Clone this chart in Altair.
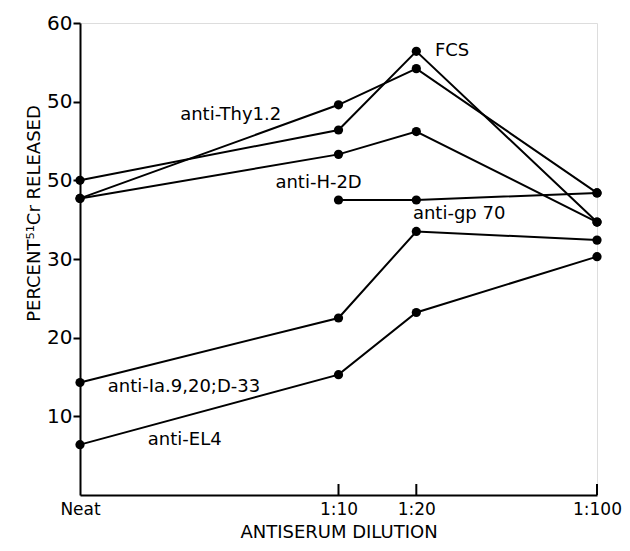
import altair as alt
import pandas as pd

# ---- data ----
dilution_x = [1, 10, 20, 100]                 # Neat, 1:10, 1:20, 1:100 (dilution factor)
dilution_labels = ["Neat", "1:10", "1:20", "1:100"]

series_names = ["FCS", "anti-Thy1.2", "anti-H-2D", "anti-gp 70", "anti-Ia.9,20;D-33", "anti-EL4"]
fcs = [40.0, 46.4, 56.4, 34.7]
thy = [37.7, 49.6, 54.2, 38.4]
h2d = [37.7, 43.3, 46.2, 34.7]
gp70 = [None, 37.5, 37.5, 38.4]
ia = [14.3, 22.5, 33.5, 32.4]
el4 = [6.4, 15.3, 23.2, 30.3]
series_values = [fcs, thy, h2d, gp70, ia, el4]

# label anchors (data units)
label_x = [23.6, 2.44, 5.7, 19.4, 1.28, 1.83]
label_y = [56.4, 48.3, 39.7, 35.7, 13.7, 7.0]

y_ticks = [10, 20, 30, 40, 50, 60]
y_tick_labels = ["10", "20", "30", "50", "50", "60"]

# ---- tables ----
rows = []
for name, vals in zip(series_names, series_values):
    for xv, yv in zip(dilution_x, vals):
        if yv is not None:
            rows.append({"series": name, "dil": xv, "pct": yv})
df = pd.DataFrame(rows)
lab_df = pd.DataFrame({"series": series_names, "lx": label_x, "ly": label_y})
tick_df = pd.DataFrame({"dil": dilution_x[1:]})

x_expr = " : ".join(
    [f"datum.value == {v} ? '{l}'" for v, l in zip(dilution_x, dilution_labels)] + ["''"]
)
y_expr = " : ".join(
    [f"datum.value == {v} ? '{l}'" for v, l in zip(y_ticks, y_tick_labels)] + ["''"]
)

FONT = "DejaVu Sans"

xscale = alt.Scale(type="log", domain=[1, 100], nice=False)
yscale = alt.Scale(domain=[0, 60], nice=False)

x_enc = alt.X(
    "dil:Q",
    scale=xscale,
    axis=alt.Axis(
        values=dilution_x,
        labelExpr=x_expr,
        title="ANTISERUM DILUTION",
        ticks=False,
        grid=False,
        labelFont=FONT,
        labelFontSize=17,
        labelColor="black",
        labelPadding=6,
        labelFlush=False,
        labelOverlap=False,
        titleFont=FONT,
        titleFontSize=18,
        titleFontWeight="normal",
        titleColor="black",
        titlePadding=6,
        domainColor="black",
        domainWidth=2,
    ),
)
y_enc = alt.Y(
    "pct:Q",
    scale=yscale,
    axis=alt.Axis(
        values=y_ticks,
        labelExpr=y_expr,
        title="PERCENT\u2075\u00b9Cr RELEASED",
        grid=False,
        tickSize=7,
        tickWidth=2,
        tickColor="black",
        labelFont=FONT,
        labelFontSize=20,
        labelColor="black",
        labelPadding=1,
        labelFlush=False,
        titleFont=FONT,
        titleFontSize=18,
        titleFontWeight="normal",
        titleColor="black",
        titleAngle=270,
        titleAlign="center",
        titleBaseline="middle",
        titleX=-46,
        titleY=190,
        domainColor="black",
        domainWidth=2,
    ),
)

lines = alt.Chart(df).mark_line(color="black", strokeWidth=2).encode(
    x=x_enc, y=y_enc, detail="series:N"
)
points = alt.Chart(df).mark_circle(color="black", opacity=1, size=85).encode(
    x=alt.X("dil:Q", scale=xscale), y=alt.Y("pct:Q", scale=yscale)
)
labels = alt.Chart(lab_df).mark_text(
    align="left", baseline="middle", font=FONT, fontSize=18, color="black"
).encode(
    x=alt.X("lx:Q", scale=xscale), y=alt.Y("ly:Q", scale=yscale), text="series:N"
)
ticks = alt.Chart(tick_df).mark_rule(color="black", strokeWidth=2).encode(
    x=alt.X("dil:Q", scale=xscale), y=alt.datum(0), y2=alt.datum(1.4)
)

chart = (
    alt.layer(lines, points, labels, ticks)
    .properties(
        width=517,
        height=472,
        autosize=alt.AutoSizeParams(type="none"),
        padding={"left": 72, "top": 15, "right": 25, "bottom": 48},
    )
    .configure_view(stroke=None)
    .configure(background="white")
)

chart.save("out.html", embed_options={"renderer": "svg", "actions": False})
